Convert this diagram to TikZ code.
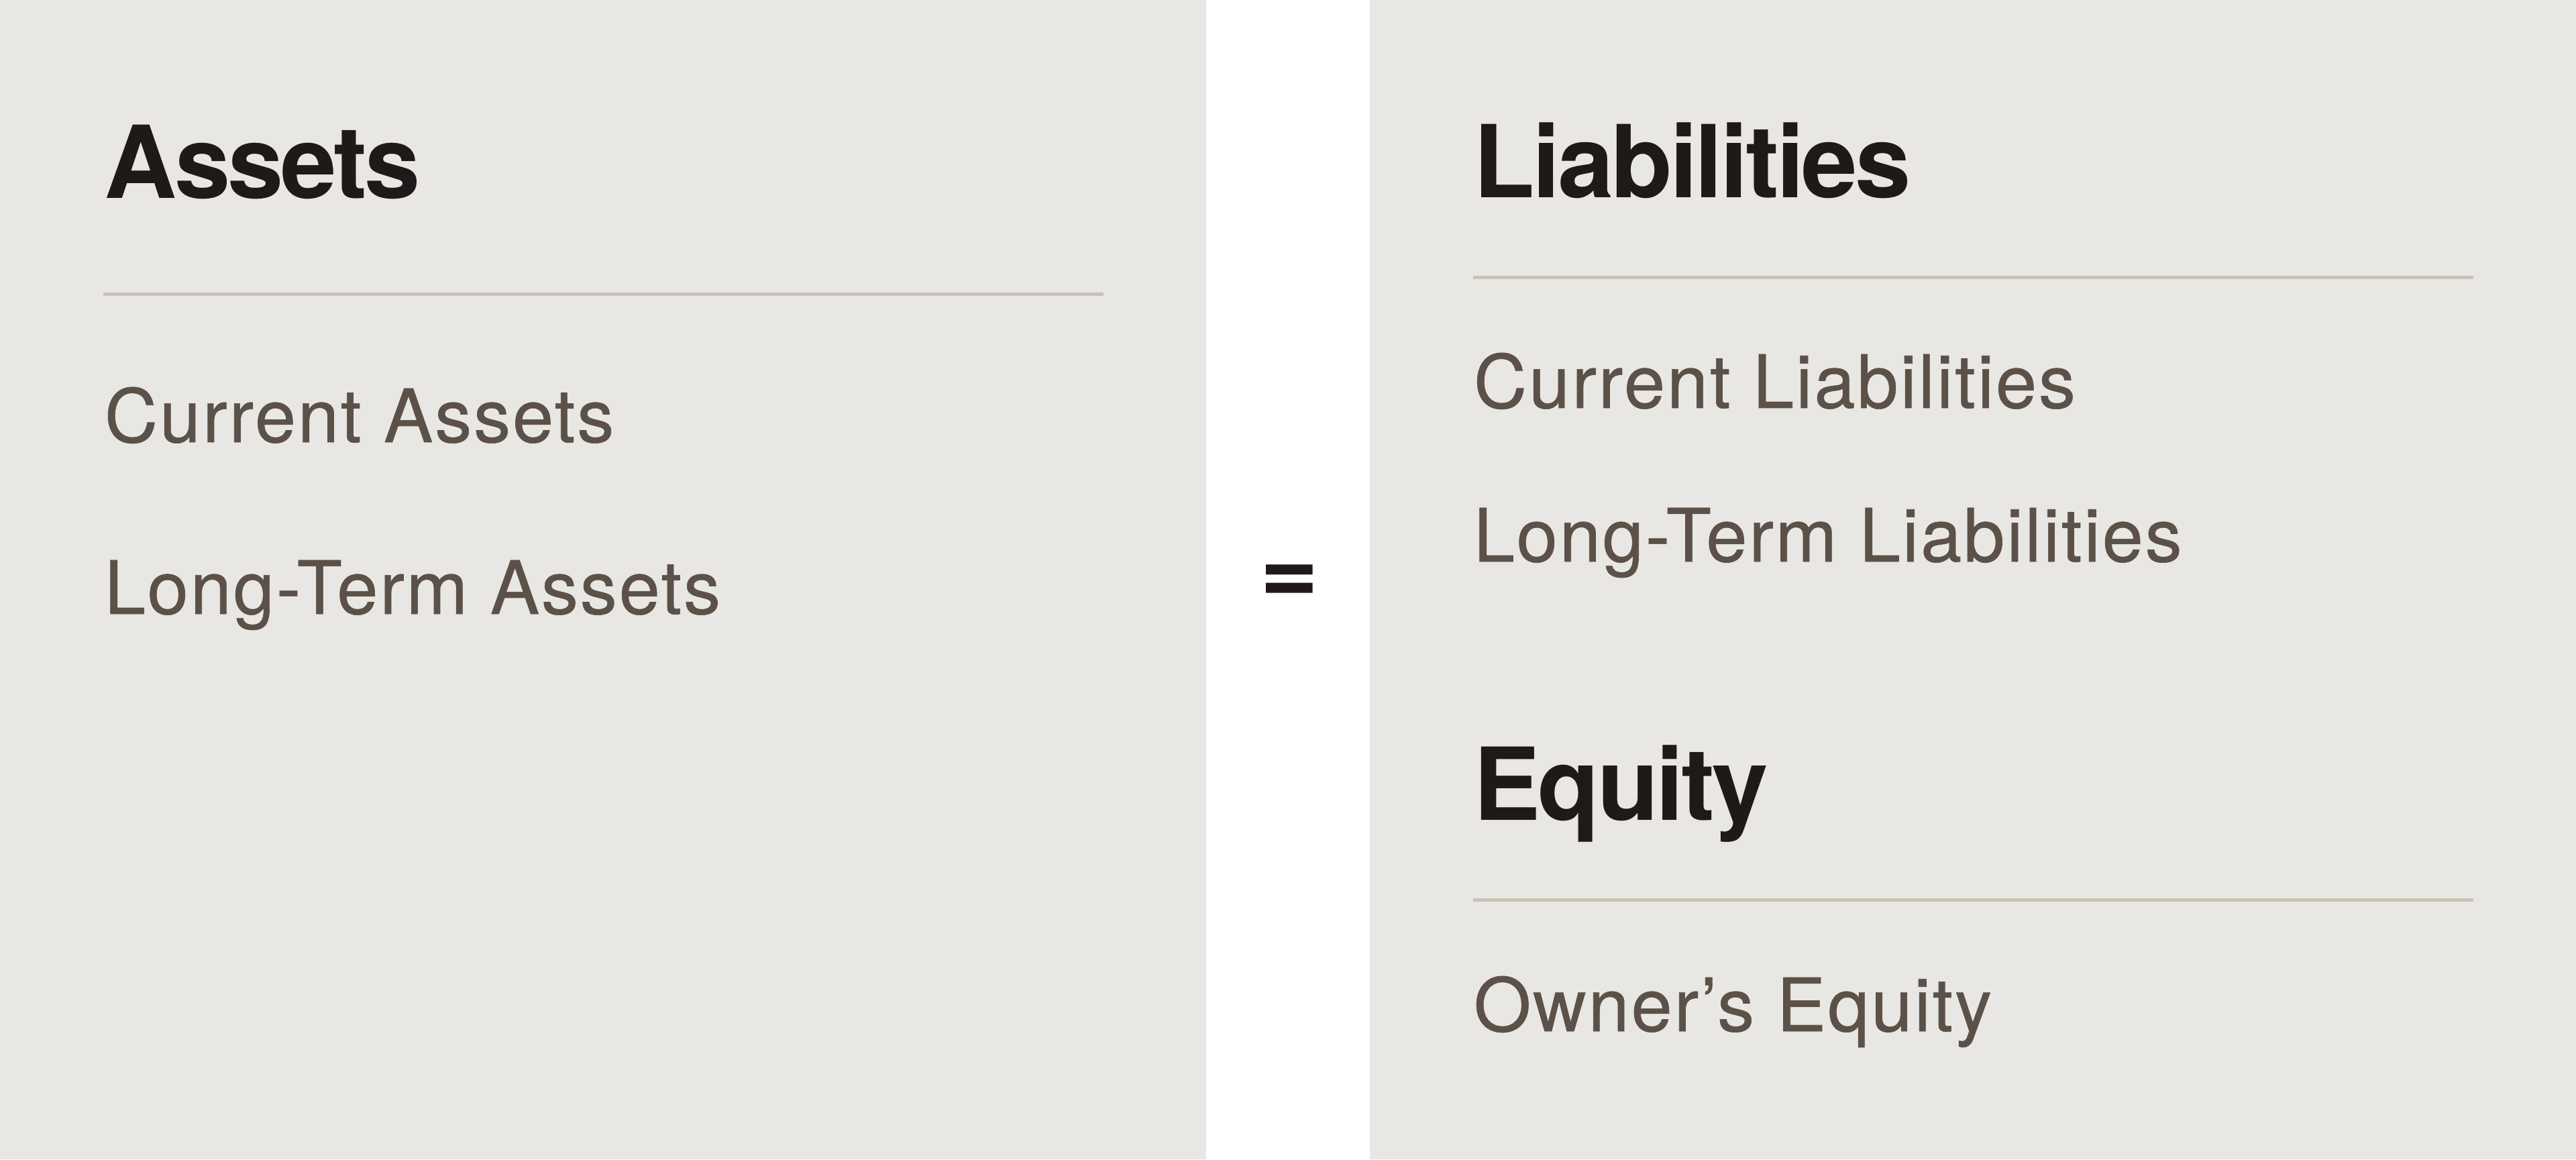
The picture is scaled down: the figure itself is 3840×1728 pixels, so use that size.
\documentclass[tikz,border=0pt]{standalone}
\usepackage{fontspec}
\setmainfont{TeX Gyre Heros}
\newfontfamily\headfont[LetterSpace=-2.7]{TeX Gyre Heros}
\newfontfamily\itemfont[LetterSpace=2.6,FakeBold=0.6]{TeX Gyre Heros}
\definecolor{panelc}{HTML}{E9E7E3}
\definecolor{headc}{HTML}{1F1919}
\definecolor{itemc}{HTML}{5B5149}
\definecolor{rulec}{HTML}{CBC2B6}
\tikzset{
  panel/.style={fill=panelc, draw=none},
  head/.style={anchor=base west, inner sep=0pt, text=headc,
    font=\headfont\fontsize{37.5}{40}\selectfont\bfseries},
  item/.style={anchor=base west, inner sep=0pt, text=itemc,
    font=\itemfont\fontsize{27.5}{30}\selectfont},
  eqsign/.style={anchor=center, inner sep=0pt, text=headc,
    font=\fontsize{37.5}{40}\selectfont\bfseries},
  hrule/.style={draw=rulec, line width=1.25pt}
}
\begin{document}
\begin{tikzpicture}[x=0.25pt, y=-0.25pt]
\useasboundingbox (0,0) rectangle (3840,1728);
\fill[white] (0,0) rectangle (3840,1728);
% panels
\path[panel] (0,0) rectangle (1798,1728);
\path[panel] (2042,0) rectangle (3840,1728);
% left panel
\node[head] (assets) at (155,295) {Assets};
\draw[hrule] (154,438) -- (1645,438);
\node[item] (curA) at (155,659) {Current Assets};
\node[item] (ltA) at (155,915) {Long-Term Assets};
% equals
\node[eqsign] (eq) at (1922,871) {=};
% right panel
\node[head] (liab) at (2196,294) {Liabilities};
\draw[hrule] (2196,413) -- (3687,413);
\node[item] (curL) at (2196,608) {Current Liabilities};
\node[item] (ltL) at (2196,837) {Long-Term Liabilities};
\node[head] (equity) at (2196,1222) {Equity};
\draw[hrule] (2196,1341) -- (3687,1341);
\node[item] (owner) at (2196,1537) {Owner’s Equity};
\end{tikzpicture}
\end{document}
